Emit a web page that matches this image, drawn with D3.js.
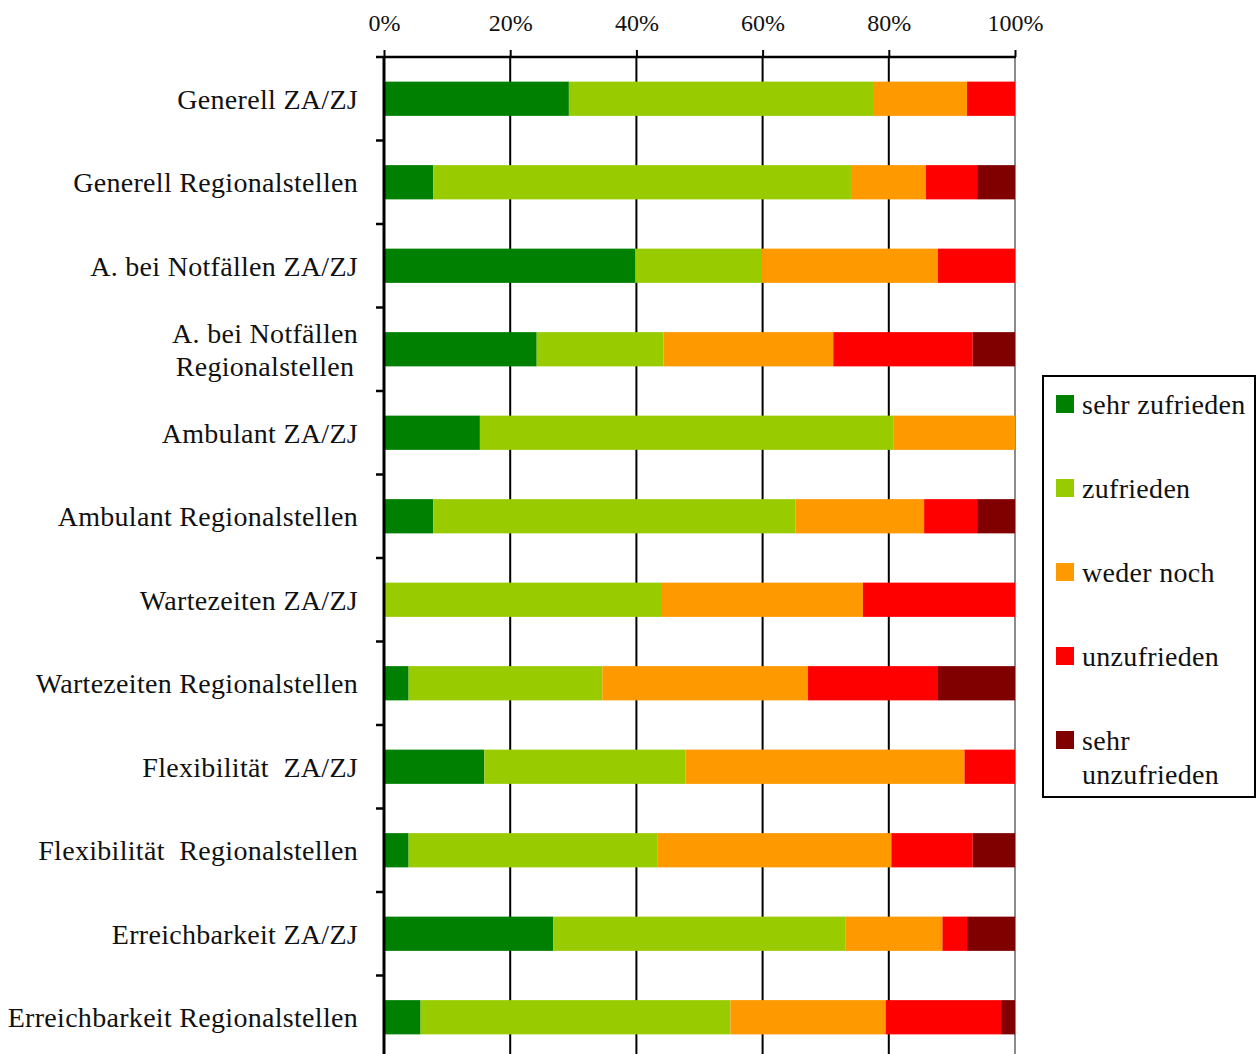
<!DOCTYPE html>
<html>
<head>
<meta charset="utf-8">
<script src="https://cdn.jsdelivr.net/npm/d3@7"></script>
<style>
  html, body { margin: 0; padding: 0; background: #fff; }
  svg { display: block; }
  text { font-family: "Liberation Serif", "DejaVu Serif", serif; fill: #111; }
</style>
</head>
<body>
<svg id="chart" width="1257" height="1054"></svg>
<script>
// Survey items (top to bottom)
const categories = [
  "Generell ZA/ZJ",
  "Generell Regionalstellen",
  "A. bei Notfällen ZA/ZJ",
  "A. bei Notfällen Regionalstellen",
  "Ambulant ZA/ZJ",
  "Ambulant Regionalstellen",
  "Wartezeiten ZA/ZJ",
  "Wartezeiten Regionalstellen",
  "Flexibilität  ZA/ZJ",
  "Flexibilität  Regionalstellen",
  "Erreichbarkeit ZA/ZJ",
  "Erreichbarkeit Regionalstellen"
];

// Wrapped label lines where the label breaks
const labelLines = {
  "A. bei Notfällen Regionalstellen": ["A. bei Notfällen", "Regionalstellen"]
};

// Response levels and their colours
const seriesNames = ["sehr zufrieden", "zufrieden", "weder noch", "unzufrieden", "sehr unzufrieden"];
const seriesColors = ["#008000", "#99CC00", "#FF9900", "#FF0000", "#800000"];

// Share of answers per level, in percent (one entry per category)
const sehrZufrieden   = [29.3,  7.8, 39.8, 24.2, 15.2,  7.8,  0.0,  3.9, 15.9,  3.9, 26.8,  5.8];
const zufrieden       = [48.2, 66.2, 20.0, 20.1, 65.5, 57.4, 43.9, 30.7, 31.9, 39.4, 46.3, 49.1];
const wederNoch       = [14.9, 11.9, 28.0, 26.9, 19.3, 20.4, 32.0, 32.6, 44.2, 37.1, 15.4, 24.6];
const unzufrieden     = [ 7.6,  8.1, 12.2, 22.1,  0.0,  8.4, 24.1, 20.6,  8.0, 12.9,  3.9, 18.3];
const sehrUnzufrieden = [ 0.0,  6.0,  0.0,  6.7,  0.0,  6.0,  0.0, 12.2,  0.0,  6.7,  7.6,  2.2];

const tickValues = [0, 20, 40, 60, 80, 100];

const seriesValues = [sehrZufrieden, zufrieden, wederNoch, unzufrieden, sehrUnzufrieden];
const table = categories.map((c, i) => {
  const row = { category: c };
  seriesNames.forEach((s, k) => { row[s] = seriesValues[k][i]; });
  return row;
});
const stacked = d3.stack().keys(seriesNames)(table);

const svg = d3.select("#chart");
const plot = { left: 384, right: 1015, top: 57, bottom: 1059 };
const labelFont = 28;
const labelSpacing = "0.3px";

const x = d3.scaleLinear().domain([0, 100]).range([plot.left, plot.right]);
const y = d3.scaleBand().domain(categories).range([plot.top, plot.bottom]).paddingInner(0.59).paddingOuter(0.295);
const band = d3.scaleBand().domain(categories).range([plot.top, plot.bottom]);

// Vertical gridlines
svg.append("g")
  .selectAll("line")
  .data(tickValues.slice(1))
  .join("line")
  .attr("x1", d => x(d)).attr("x2", d => x(d))
  .attr("y1", plot.top).attr("y2", plot.bottom)
  .attr("stroke", d => d === 100 ? "#8c8c8c" : "#000")
  .attr("stroke-width", 2);

// Stacked bars
svg.append("g")
  .selectAll("g")
  .data(stacked)
  .join("g")
  .attr("fill", (d, i) => seriesColors[i])
  .selectAll("rect")
  .data(d => d.filter(p => p[1] - p[0] > 0))
  .join("rect")
  .attr("x", d => x(d[0]))
  .attr("width", d => x(d[1]) - x(d[0]))
  .attr("y", d => y(d.data.category))
  .attr("height", y.bandwidth());

// Top axis with percentage labels
const xAxis = d3.axisTop(x).tickValues(tickValues).tickFormat(d => d + "%").tickSize(7).tickPadding(19);
const gx = svg.append("g").attr("transform", `translate(0,${plot.top})`).call(xAxis);
gx.select(".domain").remove();
gx.selectAll(".tick line").attr("stroke", "#000").attr("stroke-width", 2);
gx.selectAll(".tick text").attr("font-size", 24).attr("font-family", "Liberation Serif, serif").attr("fill", "#111");
svg.append("line")
  .attr("x1", plot.left - 8).attr("x2", plot.right + 1)
  .attr("y1", plot.top).attr("y2", plot.top)
  .attr("stroke", "#000").attr("stroke-width", 2.5);

// Left axis line and category separators
svg.append("line")
  .attr("x1", plot.left).attr("x2", plot.left)
  .attr("y1", plot.top).attr("y2", plot.bottom)
  .attr("stroke", "#000").attr("stroke-width", 3);
svg.append("g")
  .selectAll("line")
  .data(categories.slice(1))
  .join("line")
  .attr("x1", plot.left - 8).attr("x2", plot.left)
  .attr("y1", d => band(d)).attr("y2", d => band(d))
  .attr("stroke", "#000").attr("stroke-width", 2.5);

// Category labels
const labelRight = 358;
const labels = svg.append("g");
categories.forEach(c => {
  const cy = y(c) + y.bandwidth() / 2;
  const lines = labelLines[c];
  if (!lines) {
    labels.append("text")
      .attr("x", labelRight).attr("y", cy)
      .attr("dy", "0.35em")
      .attr("text-anchor", "end")
      .attr("font-size", labelFont)
      .style("letter-spacing", labelSpacing)
      .style("white-space", "pre")
      .text(c);
  } else {
    const t = labels.append("text").attr("font-size", labelFont).attr("text-anchor", "middle")
      .style("letter-spacing", labelSpacing);
    const widths = lines.map(l => {
      const tmp = labels.append("text").attr("font-size", labelFont).style("letter-spacing", labelSpacing).text(l);
      const w = tmp.node().getComputedTextLength();
      tmp.remove();
      return w;
    });
    const cx = labelRight - d3.max(widths) / 2;
    lines.forEach((l, i) => {
      t.append("tspan")
        .attr("x", cx)
        .attr("y", cy + (i - (lines.length - 1) / 2) * 33)
        .attr("dy", "0.35em")
        .text(l);
    });
  }
});

// Legend
const legend = svg.append("g");
legend.append("rect")
  .attr("x", 1043).attr("y", 376).attr("width", 212).attr("height", 421)
  .attr("fill", "#fff").attr("stroke", "#000").attr("stroke-width", 2);
const legendLines = [["sehr zufrieden"], ["zufrieden"], ["weder noch"], ["unzufrieden"], ["sehr", "unzufrieden"]];
seriesNames.forEach((s, i) => {
  const cy = 404 + i * 84;
  legend.append("rect")
    .attr("x", 1056).attr("y", cy - 9).attr("width", 18).attr("height", 18)
    .attr("fill", seriesColors[i]);
  const t = legend.append("text").attr("font-size", labelFont).style("letter-spacing", labelSpacing);
  legendLines[i].forEach((l, j) => {
    t.append("tspan").attr("x", 1082).attr("y", cy + j * 34).attr("dy", "0.35em").text(l);
  });
});
</script>
</body>
</html>
